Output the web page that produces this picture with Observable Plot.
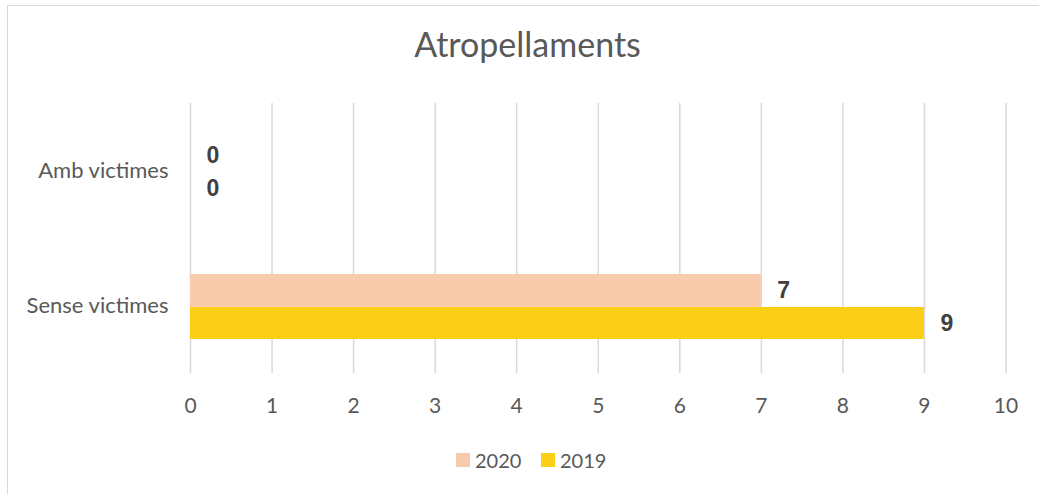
<!DOCTYPE html>
<html>
<head>
<meta charset="utf-8">
<script src="https://cdn.jsdelivr.net/npm/d3@7"></script>
<script src="https://cdn.jsdelivr.net/npm/@observablehq/plot@0.6"></script>
<style>
  html, body { margin: 0; padding: 0; background: #fff; }
  #frame { position: absolute; left: 7px; top: 5px; width: 1100px; height: 600px;
           border-top: 1.5px solid #d9d9d9; border-left: 1.5px solid #d9d9d9; }
  #wrap { position: relative; width: 1039px; height: 494px; overflow: hidden; font-family: Lato, sans-serif; }
  #title { position: absolute; left: 0; width: 1055px; top: 24px; text-align: center;
           font-size: 34px; color: #595959; line-height: 1.2; }
  #chart { position: absolute; left: 0; top: 90px; }
  .lg { position: absolute; top: 448px; display: flex; align-items: center; font-size: 20px; color: #595959; }
  .sw { width: 14px; height: 14px; margin-right: 5px; }
</style>
</head>
<body>
<div id="wrap">
  <div id="frame"></div>
  <div id="title">Atropellaments</div>
  <div id="chart"></div>
  <div id="legend"></div>
</div>
<script>
const categories = ["Amb victimes", "Sense victimes"];
const series = ["2020", "2019"];
const values2020 = [0, 7];
const values2019 = [0, 9];
const xTicks = [0, 1, 2, 3, 4, 5, 6, 7, 8, 9, 10];
const colors = {"2020": "#F8CBAD", "2019": "#FBCF17"};

const d2020 = categories.map((c, i) => ({cat: c, v: values2020[i], s: "2020"}));
const d2019 = categories.map((c, i) => ({cat: c, v: values2019[i], s: "2019"}));

const plot = Plot.plot({
  width: 1039,
  height: 340,
  marginLeft: 190,
  marginRight: 33.5,
  marginTop: 13,
  marginBottom: 57,
  style: {fontFamily: "Lato, sans-serif", background: "transparent"},
  x: {domain: [0, 10], ticks: xTicks, label: null},
  y: {domain: categories, padding: 0, label: null},
  marks: [
    Plot.ruleX(xTicks, {stroke: "#d9d9d9", strokeWidth: 1.5}),
    Plot.barX(d2020, {x: "v", y: "cat", fill: colors["2020"], insetTop: 36, insetBottom: 66}),
    Plot.barX(d2019, {x: "v", y: "cat", fill: colors["2019"], insetTop: 69, insetBottom: 34}),
    Plot.text(d2020, {x: "v", y: "cat", text: d => String(d.v), dx: 16, dy: -15, textAnchor: "start",
      fontWeight: "bold", fontSize: 23, fill: "#404040", fontFamily: "Liberation Sans, Arial, sans-serif"}),
    Plot.text(d2019, {x: "v", y: "cat", text: d => String(d.v), dx: 16, dy: 18, textAnchor: "start",
      fontWeight: "bold", fontSize: 23, fill: "#404040", fontFamily: "Liberation Sans, Arial, sans-serif"}),
    Plot.axisX(xTicks, {tickSize: 0, tickPadding: 25, fontSize: 21, fill: "#595959", label: null}),
    Plot.axisY(categories, {tickSize: 0, tickPadding: 22, fontSize: 22, fill: "#595959", label: null})
  ]
});
document.getElementById("chart").appendChild(plot);

const legend = document.getElementById("legend");
const positions = {"2020": 456, "2019": 541};
series.forEach(s => {
  const item = document.createElement("div");
  item.className = "lg";
  item.style.left = positions[s] + "px";
  const sw = document.createElement("div");
  sw.className = "sw";
  sw.style.background = colors[s];
  item.appendChild(sw);
  const t = document.createElement("span");
  t.textContent = s;
  item.appendChild(t);
  legend.appendChild(item);
});
</script>
</body>
</html>
